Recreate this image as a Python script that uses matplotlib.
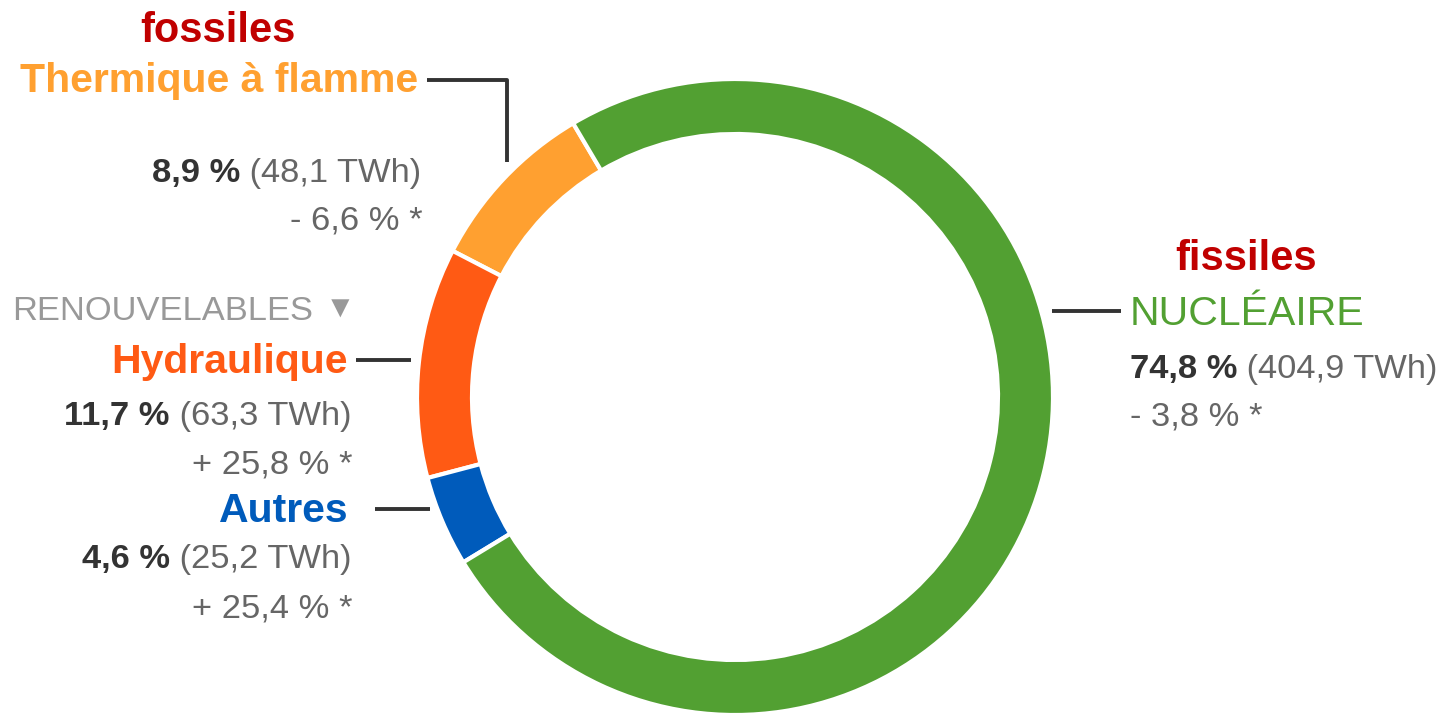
import matplotlib
matplotlib.use("Agg")
import matplotlib.pyplot as plt

# data
sources = ["Thermique à flamme", "Hydraulique", "Autres", "NUCLÉAIRE"]
shares = [8.9, 11.7, 4.6, 74.8]
twh = ["48,1", "63,3", "25,2", "404,9"]
changes = ["- 6,6 % *", "+ 25,8 % *", "+ 25,4 % *", "- 3,8 % *"]
colors = ["#FFA030", "#FF5A14", "#005BBB", "#52A032"]

W, H = 1441, 714

SANS = ["Liberation Sans", "DejaVu Sans"]
FS = 29.5     # coloured labels
NFS = 24.8    # figures (narrow face in the original, so a bit smaller here)

fig = plt.figure(figsize=(W / 100, H / 100), dpi=100)
ax = fig.add_axes([0, 0, 1, 1])

ax.pie(shares, colors=colors, startangle=120.6, counterclock=True,
       center=(735, H - 397), radius=318,
       wedgeprops=dict(width=55, edgecolor="white", linewidth=3))
ax.set_xlim(0, W)
ax.set_ylim(0, H)
ax.set_aspect("equal")
ax.axis("off")

fig.canvas.draw()
renderer = fig.canvas.get_renderer()


def y(v):
    return H - v


def txt(x, yy, s, **kw):
    kw.setdefault("fontsize", FS)
    kw.setdefault("family", SANS)
    return ax.text(x, y(yy), s, va="baseline", **kw)


def value_line(x, yy, pct, tw, ha):
    # bold percent + regular "(... TWh)"
    if ha == "right":
        t = txt(x, yy, " (%s TWh)" % tw, ha="right", color="#666666", fontsize=NFS)
        bb = t.get_window_extent(renderer)
        txt(bb.x0, yy, "%s %%" % pct, ha="right", color="#333333",
            fontsize=NFS, fontweight="bold")
    else:
        t = txt(x, yy, "%s %%" % pct, ha="left", color="#333333",
                fontsize=NFS, fontweight="bold")
        bb = t.get_window_extent(renderer)
        txt(bb.x1, yy, " (%s TWh)" % tw, ha="left", color="#666666", fontsize=NFS)


def pct_str(v):
    return ("%.1f" % v).replace(".", ",")


line_kw = dict(color="#333333", lw=2.8, solid_capstyle="butt")

# fossiles / thermique
txt(218, 42, "fossiles", ha="center", color="#C00000", fontweight="bold", fontsize=30)
txt(418, 92, sources[0], ha="right", color=colors[0], fontweight="bold")
ax.plot([427, 507, 507], [y(80), y(80), y(162)], **line_kw)
value_line(421, 182, pct_str(shares[0]), twh[0], "right")
txt(423, 230, changes[0], ha="right", color="#666666", fontsize=NFS)

# renouvelables
txt(12, 320, "RENOUVELABLES", ha="left", color="#999999", fontsize=NFS)
txt(355, 318, "\u25BC", ha="right", color="#999999", fontsize=NFS * 0.9)

txt(348, 373, sources[1], ha="right", color=colors[1], fontweight="bold")
ax.plot([356, 411], [y(360), y(360)], **line_kw)
value_line(351, 425, pct_str(shares[1]), twh[1], "right")
txt(353, 473, changes[1], ha="right", color="#666666", fontsize=NFS)

txt(348, 522, sources[2], ha="right", color=colors[2], fontweight="bold")
ax.plot([375, 430], [y(509), y(509)], **line_kw)
value_line(351, 568, pct_str(shares[2]), twh[2], "right")
txt(353, 618, changes[2], ha="right", color="#666666", fontsize=NFS)

# fissiles / nucleaire
txt(1246, 270, "fissiles", ha="center", color="#C00000", fontweight="bold", fontsize=30)
txt(1130, 325, sources[3], ha="left", color=colors[3])
ax.plot([1052, 1121], [y(311), y(311)], **line_kw)
value_line(1130, 378, pct_str(shares[3]), twh[3], "left")
txt(1130, 425, changes[3], ha="left", color="#666666", fontsize=NFS)

fig.savefig("out.png", dpi=100)
